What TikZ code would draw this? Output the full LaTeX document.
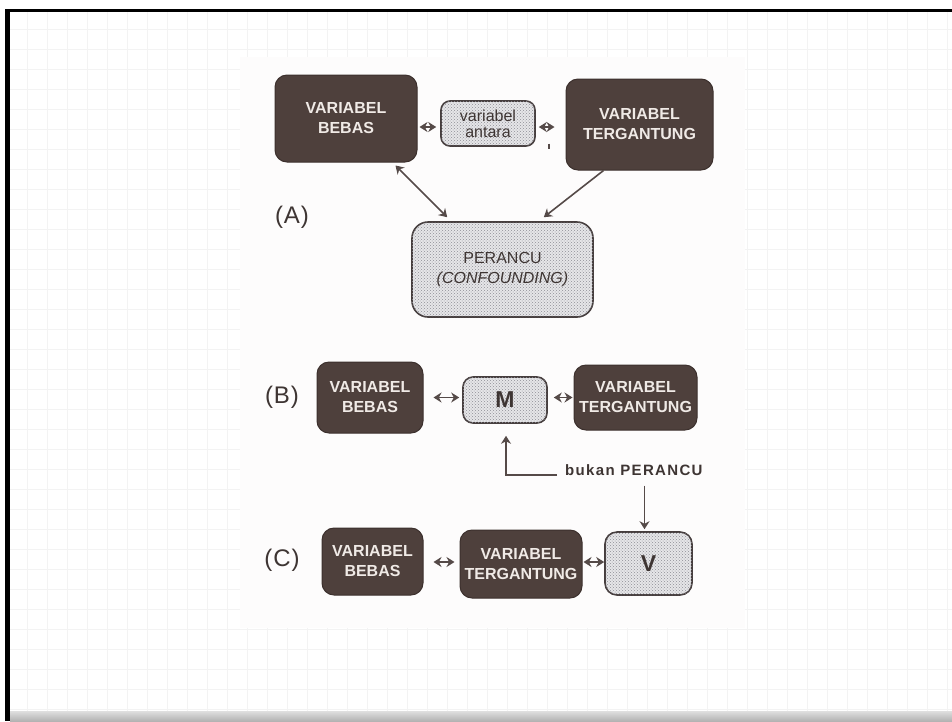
\documentclass[tikz,border=0pt]{standalone}
\usepackage{fontspec}
\setmainfont{Liberation Sans}
\setsansfont{Liberation Sans}
\usetikzlibrary{patterns,arrows.meta,calc}

\definecolor{darkfill}{HTML}{4E403C}
\definecolor{darkedge}{HTML}{3C302D}
\definecolor{boxtext}{HTML}{F0EAE6}
\definecolor{lightfill}{HTML}{E6E6E8}
\definecolor{dotc}{HTML}{8E8E96}
\definecolor{lightedge}{HTML}{463E3E}
\definecolor{arrowc}{HTML}{554A48}
\definecolor{labelc}{HTML}{3E3533}
\definecolor{gridc}{HTML}{F3F3F3}
\definecolor{paper}{HTML}{FDFCFC}

\tikzset{
  darkbox/.style={rounded corners=12pt, fill=darkfill, draw=darkedge, line width=1pt,
    text=boxtext, align=center, inner sep=0pt,
    font=\bfseries\fontsize{16}{20}\selectfont},
  lightbox/.style={rounded corners=10pt, fill=lightfill, draw=lightedge, line width=1.6pt,
    text=labelc, align=center, inner sep=0pt,
    postaction={pattern=crosshatch dots, pattern color=dotc}},
  dbl/.style={{Stealth[length=8pt,width=10pt]}-{Stealth[length=8pt,width=10pt]},
    line width=1.6pt, draw=arrowc},
  sgl/.style={-{Stealth[length=8pt,width=10pt]}, line width=1.6pt, draw=arrowc},
  lbl/.style={text=labelc, font=\addfontfeature{LetterSpace=4}\fontsize{24}{26}\selectfont, inner sep=0pt},
  gridline/.style={draw=gridc, line width=1pt}
}

\begin{document}
\begin{tikzpicture}[x=1pt,y=-1pt]
\useasboundingbox (0,0) rectangle (952,721);
\fill[white] (0,0) rectangle (952,721);

% slide grid
\foreach \i in {0,...,47} \draw[gridline] (7+20*\i,11) -- (7+20*\i,711);
\foreach \j in {1,...,35} \draw[gridline] (10,9+20*\j) -- (952,9+20*\j);

% scanned page
\fill[paper] (240,57) rectangle (745,628);

% slide frame
\fill[black] (5,9) rectangle (952,12);
\fill[black] (5,9) rectangle (10,721);
\shade[top color=gray!25, bottom color=gray!60] (10,711) rectangle (952,721);

% ---------- (A) ----------
\node[lbl] (labA) at (292,217) {(A)};
\node[darkbox, minimum width=142pt, minimum height=87pt] (aBebas) at (346,118.5) {VARIABEL\\BEBAS};
\node[lightbox, minimum width=94pt, minimum height=45pt, rounded corners=9pt,
      font=\fontsize{16}{16}\selectfont] (aAntara) at (488,123.5) {variabel\\antara};
\node[darkbox, minimum width=147pt, minimum height=91pt] (aTerg) at (639.5,124.5) {VARIABEL\\TERGANTUNG};
\node[lightbox, minimum width=181pt, minimum height=95pt, rounded corners=16pt,
      font=\fontsize{16}{20}\selectfont] (aPer) at (502.5,269.5) {PERANCU\\\itshape(CONFOUNDING)};

\draw[dbl] ($(aBebas.east |- aAntara.west)+(2,3.5)$) -- ($(aAntara.west)+(-4,3.5)$);
\draw[dbl] ($(aAntara.east)+(3,3.5)$) -- ($(aAntara.east -| aTerg.west)+(-11,3.5)$);
\draw[dbl] ($(aBebas.south east)+(-22,3)$) -- ($(aPer.north west)+(36,-4)$);
\draw[sgl] ($(aTerg.south)+(-36,0)$) -- ($(aPer.north east)+(-50,-4)$);
\draw[arrowc, line width=1.5pt] ($(aAntara.east)+(13,20)$) -- ($(aAntara.east)+(13,25)$);

% ---------- (B) ----------
\node[lbl] (labB) at (282,397) {(B)};
\node[darkbox, minimum width=106pt, minimum height=71pt] (bBebas) at (370,397.5) {VARIABEL\\BEBAS};
\node[lightbox, minimum width=84pt, minimum height=46pt, font=\bfseries\fontsize{23}{24}\selectfont] (bM) at (505,400) {M};
\node[darkbox, minimum width=123pt, minimum height=65pt] (bTerg) at (635.5,397.5) {VARIABEL\\TERGANTUNG};

\draw[dbl] ($(bBebas.east)+(10,0)$) -- ($(bBebas.east -| bM.west)+(-3,0)$);
\draw[dbl] ($(bM.east |- bTerg.west)+(6,0)$) -- ($(bTerg.west)+(-1,0)$);

\node[text=labelc, font=\bfseries\addfontfeature{LetterSpace=9}\fontsize{15}{16}\selectfont,
      inner sep=0pt, anchor=west] (bukan) at (565,470) {bukan PERANCU};
\draw[sgl] ($(bukan.west)+(-8,5)$) -| ($(bM.south)+(1,12)$);

% ---------- (C) ----------
\node[lbl] (labC) at (282,560) {(C)};
\node[darkbox, minimum width=101pt, minimum height=67pt] (cBebas) at (372.5,561.5) {VARIABEL\\BEBAS};
\node[darkbox, minimum width=122pt, minimum height=68pt] (cTerg) at (521,564) {VARIABEL\\TERGANTUNG};
\node[lightbox, minimum width=87pt, minimum height=63pt, rounded corners=12pt,
      font=\bfseries\fontsize{23}{24}\selectfont] (cV) at (648.5,563.5) {V};

\draw[sgl] ($(bukan.south -| cV.north)+(-4,10)$) -- ($(cV.north)+(-4,-2)$);
\draw[dbl] ($(cBebas.east)+(10,0.5)$) -- ($(cBebas.east -| cTerg.west)+(-5,0.5)$);
\draw[dbl] ($(cTerg.east)+(1,-2)$) -- ($(cTerg.east -| cV.west)+(0,-2)$);
\end{tikzpicture}
\end{document}
